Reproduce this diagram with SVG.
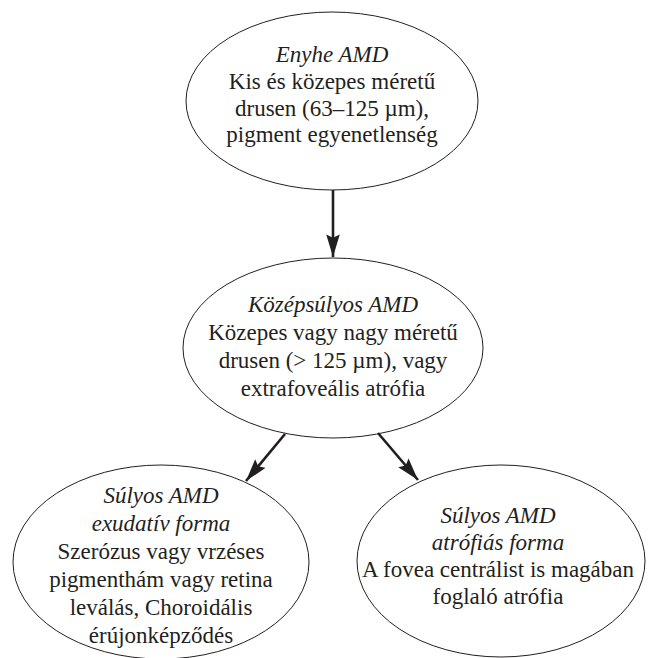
<svg xmlns="http://www.w3.org/2000/svg" width="648" height="658" viewBox="0 0 648 658">
<style>
.node ellipse{fill:#fff;stroke:#231f20;stroke-width:1}
text{font-family:"Liberation Serif","Times New Roman",serif;font-size:23px;fill:#231f20;text-anchor:middle}
.it{font-style:italic}
.conn line{stroke:#231f20;stroke-width:2.6}
</style>
<defs>
<marker id="ah" viewBox="0 0 10 6" refX="10" refY="3" markerWidth="8.8" markerHeight="5.2" markerUnits="strokeWidth" orient="auto">
<path d="M0,0 L10,3 L0,6 L1.5,3 Z" fill="#231f20"/>
</marker>
</defs>
<rect width="648" height="658" fill="#fff"/>
<g id="n1" class="node">
<ellipse cx="332" cy="101" rx="146" ry="89"/>
<text x="332" y="62" class="it">Enyhe AMD</text>
<text x="332" y="89">Kis és közepes méretű</text>
<text x="332" y="116">drusen (63–125 µm),</text>
<text x="332" y="142">pigment egyenetlenség</text>
</g>
<g id="n2" class="node">
<ellipse cx="333" cy="348" rx="150" ry="90"/>
<text x="333" y="312" class="it">Középsúlyos AMD</text>
<text x="333" y="340">Közepes vagy nagy méretű</text>
<text x="333" y="368">drusen (&gt; 125 µm), vagy</text>
<text x="333" y="396">extrafoveális atrófia</text>
</g>
<g id="n3" class="node">
<ellipse cx="161" cy="562" rx="148" ry="97"/>
<text x="161" y="503" class="it">Súlyos AMD</text>
<text x="161" y="531" class="it">exudatív forma</text>
<text x="161" y="559">Szerózus vagy vrzéses</text>
<text x="161" y="587">pigmenthám vagy retina</text>
<text x="161" y="615">leválás, Choroidális</text>
<text x="161" y="643">érújonképződés</text>
</g>
<g id="n4" class="node">
<ellipse cx="501" cy="561" rx="144" ry="96"/>
<text x="498" y="523" class="it">Súlyos AMD</text>
<text x="498" y="550" class="it">atrófiás forma</text>
<text x="498" y="577">A fovea centrálist is magában</text>
<text x="498" y="604">foglaló atrófia</text>
</g>
<g id="connectors" class="conn">
<line x1="333" y1="190" x2="333" y2="257" marker-end="url(#ah)"/>
<line x1="285" y1="434" x2="246" y2="481" marker-end="url(#ah)"/>
<line x1="378" y1="433" x2="418" y2="480" marker-end="url(#ah)"/>
</g>
</svg>
